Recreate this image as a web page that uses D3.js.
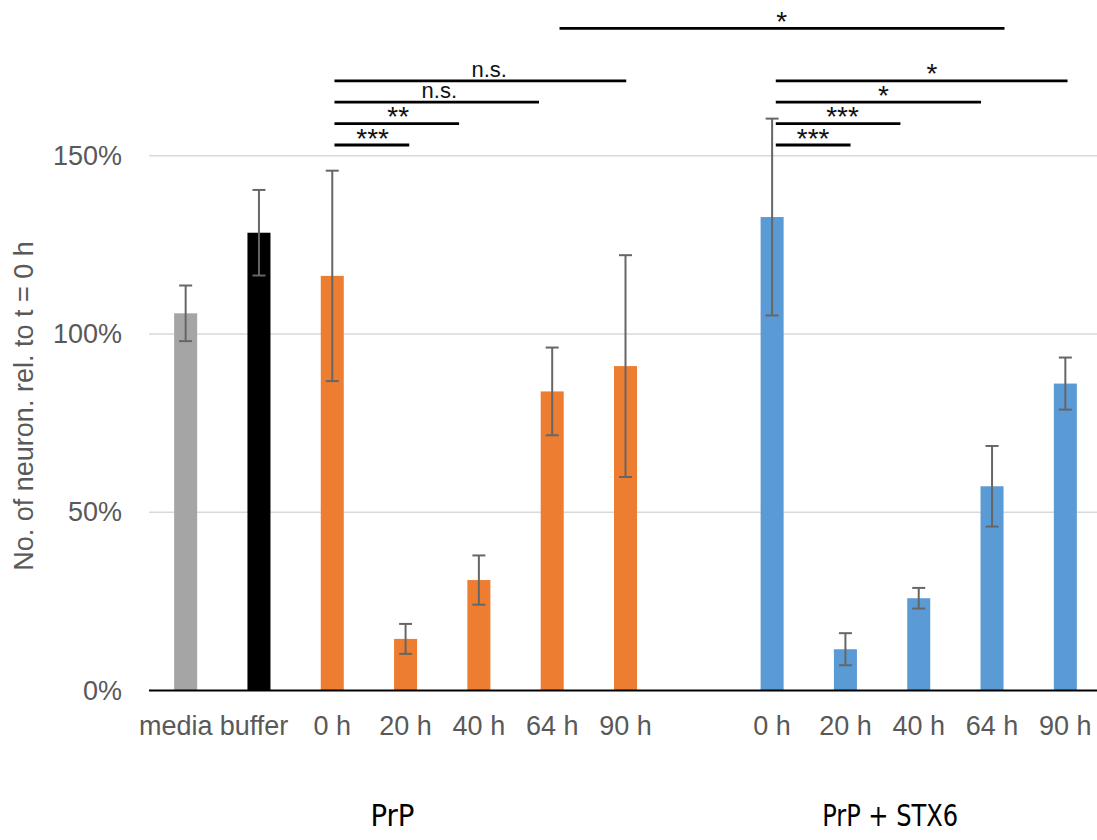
<!DOCTYPE html>
<html>
<head>
<meta charset="utf-8">
<script src="https://cdn.jsdelivr.net/npm/d3@7"></script>
<style>
  html, body { margin: 0; padding: 0; background: #fff; }
  svg { display: block; }
</style>
</head>
<body>
<svg id="chart" width="1097" height="840"></svg>
<script>
// ---------- DATA ----------
const categories = ["media", "buffer", "PrP 0 h", "PrP 20 h", "PrP 40 h", "PrP 64 h", "PrP 90 h",
                    "gap", "STX6 0 h", "STX6 20 h", "STX6 40 h", "STX6 64 h", "STX6 90 h"];
const tickLabels = ["media", "buffer", "0 h", "20 h", "40 h", "64 h", "90 h",
                    "", "0 h", "20 h", "40 h", "64 h", "90 h"];
const values = [105.8, 128.4, 116.3, 14.5, 31.0, 83.9, 91.0,
                null, 132.8, 11.6, 25.9, 57.3, 86.1];
const errors = [7.8, 12.0, 29.5, 4.2, 6.9, 12.3, 31.1,
                null, 27.6, 4.5, 2.9, 11.3, 7.3];
const barGroups = ["control-grey", "control-black", "prp", "prp", "prp", "prp", "prp",
                   null, "stx6", "stx6", "stx6", "stx6", "stx6"];
const yTicks = [0, 50, 100, 150];

// significance annotations: start/end in category-slot units, level in %
const sigStart = [2.03, 2.03, 2.03, 2.03, 5.10, 8.05, 8.05, 8.05, 8.05];
const sigEnd   = [3.05, 3.73, 4.82, 6.01, 11.17, 9.07, 9.75, 10.85, 12.03];
const sigLevel = [153, 159, 165, 171, 185.7, 153, 159, 165, 171];
const sigText  = ["***", "**", "n.s.", "n.s.", "*", "***", "***", "*", "*"];
const sigTextPos = [2.55, 2.90, 3.46, 4.14, 8.13, 8.56, 8.96, 9.52, 10.18];

const groupLabels = ["PrP", "PrP + STX6"];
const groupLabelPos = [2.82, 9.61];

const yTitle = "No. of neuron. rel. to t = 0 h";

// ---------- STYLE ----------
const colors = {
  "control-grey": "#A5A5A5",
  "control-black": "#000000",
  "prp": "#ED7D31",
  "stx6": "#5B9BD5"
};
const labelDx = {"media": -10, "buffer": -5};
const groupLabelWidth = {"PrP": 44, "PrP + STX6": 136};

// ---------- CHART ----------
const svg = d3.select("#chart");
const x = d3.scaleBand().domain(categories).range([149, 1102])
  .paddingInner(0.686).paddingOuter(0.343);
const y = d3.scaleLinear().domain([0, 150]).range([690.6, 155.7]);
const slot = i => x(categories[0]) + x.bandwidth() / 2 + x.step() * i;

// gridlines
svg.append("g").selectAll("line")
  .data(yTicks.filter(d => d > 0))
  .join("line")
  .attr("x1", 149).attr("x2", 1102)
  .attr("y1", d => y(d)).attr("y2", d => y(d))
  .attr("stroke", "#D9D9D9").attr("stroke-width", 1.5);

// y axis labels
const yAxis = svg.append("g").attr("transform", "translate(149,0)")
  .call(d3.axisLeft(y).tickValues(yTicks).tickFormat(d => d + "%").tickSize(0).tickPadding(27));
yAxis.select(".domain").remove();
yAxis.selectAll("text")
  .attr("fill", "#595959")
  .style("font-family", "'Liberation Sans', Arial, sans-serif")
  .style("font-size", "27px");

// bars
const barData = categories.map((c, i) => ({c, v: values[i], e: errors[i], g: barGroups[i]}))
  .filter(d => d.v !== null);
svg.append("g").selectAll("rect")
  .data(barData)
  .join("rect")
  .attr("x", d => x(d.c))
  .attr("width", x.bandwidth())
  .attr("y", d => y(d.v))
  .attr("height", d => y(0) - y(d.v))
  .attr("fill", d => colors[d.g]);

// error bars
const eb = svg.append("g").attr("stroke", "#666666").attr("stroke-width", 2).attr("fill", "none");
barData.forEach(d => {
  const cx = x(d.c) + x.bandwidth() / 2;
  eb.append("line").attr("x1", cx).attr("x2", cx).attr("y1", y(d.v + d.e)).attr("y2", y(d.v - d.e));
  eb.append("line").attr("x1", cx - 6.5).attr("x2", cx + 6.5).attr("y1", y(d.v + d.e)).attr("y2", y(d.v + d.e));
  eb.append("line").attr("x1", cx - 6.5).attr("x2", cx + 6.5).attr("y1", y(d.v - d.e)).attr("y2", y(d.v - d.e));
});

// x axis
const xAxis = svg.append("g").attr("transform", `translate(0,${y(0)})`)
  .call(d3.axisBottom(x).tickSize(0).tickPadding(25).tickFormat((d, i) => tickLabels[i]));
xAxis.select(".domain").remove();
xAxis.selectAll("text")
  .attr("fill", "#595959")
  .attr("dx", d => labelDx[d] || 0)
  .style("font-family", "'Liberation Sans', Arial, sans-serif")
  .style("font-size", "27px");
svg.append("line")
  .attr("x1", 149).attr("x2", 1102)
  .attr("y1", y(0)).attr("y2", y(0))
  .attr("stroke", "#000").attr("stroke-width", 2);

// significance annotations
const sig = svg.append("g");
sigStart.forEach((s, i) => {
  sig.append("line")
    .attr("x1", slot(s)).attr("x2", slot(sigEnd[i]))
    .attr("y1", y(sigLevel[i])).attr("y2", y(sigLevel[i]))
    .attr("stroke", "#000").attr("stroke-width", 2.8);
  const isStar = sigText[i].startsWith("*");
  sig.append("text")
    .attr("x", slot(sigTextPos[i]))
    .attr("y", y(sigLevel[i]) + (isStar ? 2.5 : -4.3))
    .attr("text-anchor", "middle")
    .attr("fill", "#111")
    .style("font-family", "'Liberation Sans', Arial, sans-serif")
    .style("font-size", isStar ? "28px" : "22px")
    .text(sigText[i]);
});

// group labels
svg.append("g").selectAll("text")
  .data(groupLabels)
  .join("text")
  .attr("x", (d, i) => slot(groupLabelPos[i]))
  .attr("y", 826)
  .attr("text-anchor", "middle")
  .attr("fill", "#000")
  .attr("textLength", d => groupLabelWidth[d])
  .attr("lengthAdjust", "spacingAndGlyphs")
  .style("font-family", "'Liberation Sans Narrow', 'DejaVu Sans Condensed', 'Open Sans', sans-serif")
  .style("font-size", "31px")
  .text(d => d);

// y title
svg.append("text")
  .attr("transform", "translate(33,406) rotate(-90)")
  .attr("text-anchor", "middle")
  .attr("fill", "#595959")
  .style("font-family", "'Liberation Sans', Arial, sans-serif")
  .style("font-size", "27px")
  .text(yTitle);
</script>
</body>
</html>
